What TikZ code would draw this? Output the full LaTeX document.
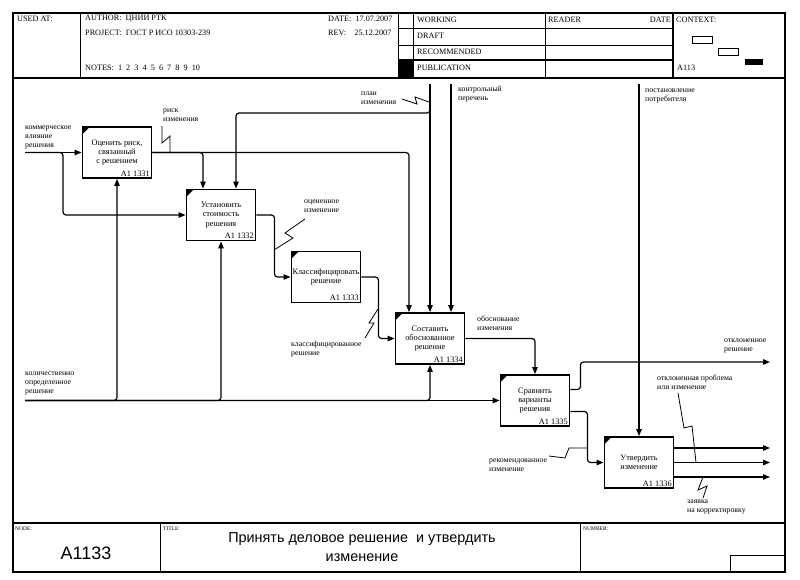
\documentclass[tikz,border=0pt]{standalone}
\usepackage{fontspec}
\setmainfont{Liberation Serif}
\setsansfont{Liberation Sans}
\usetikzlibrary{arrows.meta,calc,positioning}

\tikzset{
  func/.style={draw, rectangle, line width=1.9pt, minimum width=69pt, minimum height=51pt,
    inner sep=1pt, align=center, font=\fontsize{8.3}{9.2}\selectfont,
    path picture={\fill (path picture bounding box.north west) -- ++(7,0) -- ++(-7,7) -- cycle;}},
  num/.style={anchor=south east, inner sep=2.5pt, font=\fontsize{8.3}{9}\selectfont},
  arr/.style={-{Triangle[length=7pt,width=5.5pt]}, line width=1.2pt, rounded corners=3pt},
  sq/.style={line width=0.8pt},
  lbl/.style={anchor=north west, align=left, inner sep=0pt, font=\fontsize{7.8}{8.8}\selectfont},
  hd/.style={anchor=west, inner sep=0pt, font=\fontsize{8.2}{9}\selectfont},
  tiny/.style={anchor=west, inner sep=0pt, font=\fontsize{5.5}{6}\selectfont},
}

\begin{document}
\begin{tikzpicture}[x=1pt, y=-1pt]
\useasboundingbox (0,0) rectangle (800,579);

% frame, header and footer
\draw[line width=1.5pt] (13,13) rectangle (785,572);
\draw[line width=1.5pt] (13,78) -- (785,78);
\draw[line width=1.5pt] (13,523) -- (785,523);
\draw[line width=1pt] (80,13) -- (80,78);
\draw[line width=1pt] (398,13) -- (398,78);
\draw[line width=1pt] (413,13) -- (413,78);
\draw[line width=1pt] (545,13) -- (545,78);
\draw[line width=1.5pt] (673,13) -- (673,78);
\draw[line width=0.8pt] (398,28) -- (673,28);
\draw[line width=0.8pt] (398,45) -- (673,45);
\draw[line width=1.2pt] (398,60) -- (673,60);
\fill (398,60) rectangle (413,78);
\draw[line width=1pt] (160,523) -- (160,572);
\draw[line width=1pt] (580,523) -- (580,572);
\draw[line width=1pt] (730,555) rectangle (785,572);

\node[hd] (usedat) at (17,19) {USED AT:};
\node[hd] (author) at (85,19) {AUTHOR:\ \ ЦНИИ РТК};
\node[hd] (project) at (85,33) {PROJECT:\ \ ГОСТ Р ИСО 10303-239};
\node[hd] (notes) at (85,68) {NOTES:\ \ 1\ \ 2\ \ 3\ \ 4\ \ 5\ \ 6\ \ 7\ \ 8\ \ 9\ \ 10};
\node[hd] (date) at (328,19) {DATE:\ \ 17.07.2007};
\node[hd] (rev) at (328,33) {REV:\ \ \ \ 25.12.2007};
\node[hd] (working) at (417,20) {WORKING};
\node[hd] (draft) at (417,36) {DRAFT};
\node[hd] (recomm) at (417,52) {RECOMMENDED};
\node[hd] (public) at (417,68) {PUBLICATION};
\node[hd] (reader) at (548,20) {READER};
\node[hd, anchor=east] (rdate) at (671,20) {DATE};
\node[hd] (context) at (676,20) {CONTEXT:};
\node[hd] (ctxnode) at (677,68) {A113};
\draw[line width=0.8pt] (692,36) rectangle (712,43);
\draw[line width=0.8pt] (718,48) rectangle (738,55);
\fill (745,59) rectangle (763,65);

\node[tiny] (nodelbl) at (15,529) {NODE:};
\node[tiny] (titlelbl) at (163,529) {TITLE:};
\node[tiny] (numlbl) at (583,529) {NUMBER:};
\node[font=\sffamily\fontsize{18}{20}\selectfont, inner sep=0pt] (nodeid) at (86,553) {A1133};
\node[align=center, inner sep=0pt, font=\sffamily\fontsize{14.4}{19}\selectfont] (title) at (362,547)
  {Принять деловое решение\ \ и утвердить\\изменение};

% functions
\node[func, label={[num]south east:A1 1331}] (b1) at (117,152.5) {Оценить риск,\\связанный\\с решением};
\node[func, label={[num]south east:A1 1332}] (b2) at (221,215) {Установить\\стоимость\\решения};
\node[func, label={[num]south east:A1 1333}] (b3) at (326,277) {Классифицировать\\решение};
\node[func, label={[num]south east:A1 1334}] (b4) at (430,338.5) {Составить\\обоснованное\\решение};
\node[func, label={[num]south east:A1 1335}] (b5) at (535,400.5) {Сравнить\\варианты\\решения};
\node[func, label={[num]south east:A1 1336}] (b6) at (639,462.5) {Утвердить\\изменение};

% boundary points
\coordinate (in1) at (25,152.5);
\coordinate (mec) at (25,400.5);
\coordinate (ctl1) at (430,84);
\coordinate (ctl2) at (451,84);
\coordinate (ctl3) at (639,84);
\coordinate (out1) at (770,362);
\coordinate (o61) at (770,448);
\coordinate (o62) at (770,462.5);
\coordinate (o63) at (770,477);

% inputs
\draw[arr] (in1) -- (b1.west);
\draw[arr] (in1) -- ++(38,0) |- (b2.west);
\node[lbl] (in1lbl) at (25,126) {коммерческое\\влияние\\решения};

% mechanism
\draw[arr] (mec) -- (b5.west);
\draw[arr] (mec) -| (b1.south);
\draw[arr] (mec) -| (b2.south);
\draw[arr] (mec) -| (b4.south);
\node[lbl] (meclbl) at (25,372) {количественно\\определенное\\решение};

% controls
\draw[arr] (ctl1) -- (b4.north);
\draw[arr] (ctl1) -- ++(0,29) -| ($(b2.north)+(15,0)$);
\draw[arr] (ctl2) -- ($(b4.north)+(21,0)$);
\draw[arr] (ctl3) -- (b6.north);
\node[lbl] (ctl1lbl) at (361,92) {план\\изменения};
\draw[sq] (402,99) -- (417,104) -- (415,97) -- (429,102);
\node[lbl] (ctl2lbl) at (458,86) {контрольный\\перечень};
\node[lbl] (ctl3lbl) at (645,89) {постановление\\потребителя};

% internal arrows
\draw[arr] (b1.east) -| ($(b4.north)+(-21,0)$);
\draw[arr] (b1.east) -| ($(b2.north)+(-18,0)$);
\node[lbl] (risklbl) at (163,109) {риск\\изменения};
\draw[sq] (162,126) -- (162,143) -- (170,136) -- (170,152.5);

\draw[arr] (b2.east) -- ++(18,0) |- (b3.west);
\node[lbl] (b2lbl) at (304,200) {оцененное\\изменение};
\draw[sq] (305,219) -- (285,233) -- (293,238) -- (274,250);

\draw[arr] (b3.east) -- ++(17,0) |- (b4.west);
\node[lbl] (b3lbl) at (291,341) {классифицированное\\решение};
\draw[sq] (365,338) -- (374,323) -- (369,323) -- (378,309);

\draw[arr] (b4.east) -| (b5.north);
\node[lbl] (b4lbl) at (477,316) {обоснование\\изменения};

\draw[arr] ($(b5.east)+(0,-11)$) -- ++(10,0) |- (out1);
\node[lbl] (out1lbl) at (724,339) {отклоненное\\решение};

\draw[arr] ($(b5.east)+(0,11)$) -- ++(17,0) |- (b6.west);
\node[lbl] (b5lbl) at (489,459) {рекомендованное\\изменение};
\draw[sq] (549,456) -- (565,458) -- (569,448) -- (587,448);

% outputs
\draw[arr] (o61 -| b6.east) -- (o61);
\draw[arr] (o62 -| b6.east) -- (o62);
\draw[arr] (o63 -| b6.east) -- (o63);
\node[lbl] (o62lbl) at (657,375) {отклоненная проблема\\или изменение};
\draw[sq] (678,393) -- (684,428) -- (692,426) -- (696,462.5);
\node[lbl] (o63lbl) at (687,500) {заявка\\на корректировку};
\draw[sq] (703,477) -- (698,490) -- (707,486) -- (703,498);
\end{tikzpicture}
\end{document}
